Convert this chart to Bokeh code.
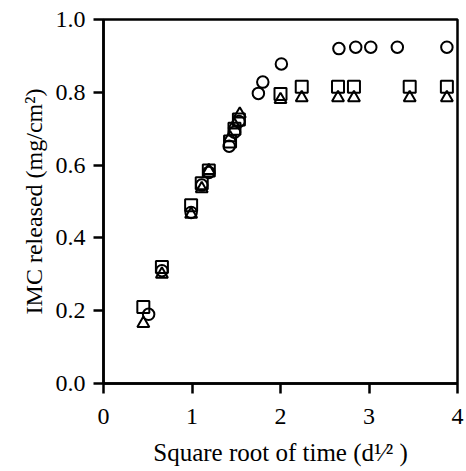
from bokeh.plotting import figure
from bokeh.models import Range1d, FixedTicker, NumeralTickFormatter
from bokeh.embed import file_html
from bokeh.resources import INLINE

# ---- data ----
sq_x = [0.45, 0.66, 0.99, 1.11, 1.19, 1.43, 1.48, 1.53, 2.00, 2.24, 2.65, 2.83, 3.46, 3.88]
sq_y = [0.21, 0.32, 0.49, 0.55, 0.585, 0.665, 0.70, 0.725, 0.795, 0.815, 0.815, 0.815, 0.815, 0.815]

tri_x = [0.45, 0.66, 0.99, 1.11, 1.19, 1.43, 1.48, 1.54, 2.00, 2.24, 2.65, 2.83, 3.46, 3.88]
tri_y = [0.165, 0.30, 0.465, 0.535, 0.585, 0.675, 0.71, 0.74, 0.78, 0.785, 0.785, 0.785, 0.785, 0.785]

cir_x = [0.51, 0.66, 0.99, 1.11, 1.19, 1.42, 1.48, 1.53, 1.75, 1.80, 2.01, 2.66, 2.85, 3.02, 3.32, 3.88]
cir_y = [0.19, 0.31, 0.47, 0.545, 0.58, 0.652, 0.69, 0.72, 0.797, 0.828, 0.878, 0.92, 0.924, 0.924, 0.924, 0.924]

x_ticks = [0, 1, 2, 3, 4]
y_ticks = [0.0, 0.2, 0.4, 0.6, 0.8, 1.0]

x_title = "Square root of time (d\u00b9\u2044\u00b2 )"
y_title = "IMC released (mg/cm\u00b2)"

FONT = "Times New Roman"
W, H = 466, 471
L, R, T, B = 103, 9, 19, 88

p = figure(width=W, height=H, output_backend="svg", toolbar_location=None,
           x_range=Range1d(0, 4), y_range=Range1d(0, 1.0),
           min_border_left=L, min_border_right=R, min_border_top=T, min_border_bottom=B)

p.xgrid.visible = False
p.ygrid.visible = False
p.background_fill_color = "white"
p.border_fill_color = "white"
p.outline_line_color = "black"
p.outline_line_width = 2.5

for ax in (p.xaxis[0], p.yaxis[0]):
    ax.axis_line_width = 2.5
    ax.major_tick_line_width = 2.5
    ax.major_tick_out = 10
    ax.major_tick_in = 0
    ax.minor_tick_line_color = None
    ax.major_label_text_font = FONT
    ax.major_label_text_font_size = "24px"
    ax.major_label_text_color = "black"
    ax.axis_label_text_font = FONT
    ax.axis_label_text_font_style = "normal"
    ax.axis_label_text_color = "black"

p.xaxis[0].ticker = FixedTicker(ticks=x_ticks)
p.yaxis[0].ticker = FixedTicker(ticks=y_ticks)
p.yaxis[0].formatter = NumeralTickFormatter(format="0.0")
p.xaxis[0].major_label_standoff = 15
p.yaxis[0].major_label_standoff = 8

p.xaxis[0].axis_label = x_title
p.xaxis[0].axis_label_text_font_size = "25px"
p.xaxis[0].axis_label_standoff = 12
p.yaxis[0].axis_label = y_title
p.yaxis[0].axis_label_text_font_size = "24px"
p.yaxis[0].axis_label_standoff = 6

common = dict(line_color="black", fill_color=None, line_width=2)
p.scatter(sq_x, sq_y, marker="square", size=12, **common)
p.scatter(tri_x, tri_y, marker="triangle", size=12, **common)
p.scatter(cir_x, cir_y, marker="circle", size=11.5, **common)

open("out.html", "w").write(file_html(p, INLINE))
